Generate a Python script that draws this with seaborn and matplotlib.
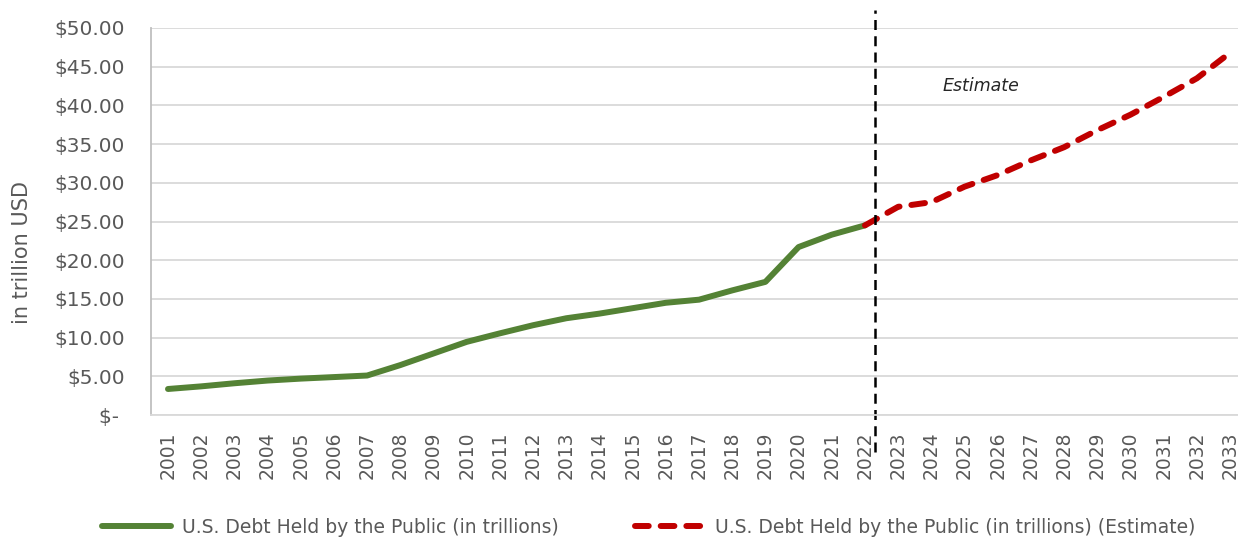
import numpy as np
import pandas as pd
import matplotlib
matplotlib.use('Agg')
import matplotlib.pyplot as plt
import seaborn as sns
from matplotlib.ticker import FuncFormatter

# values (trillions of USD)
years_actual = list(range(2001, 2023))
debt_actual = [3.36, 3.7, 4.1, 4.45, 4.7, 4.9, 5.1, 6.45, 7.95, 9.45, 10.55,
               11.6, 12.5, 13.1, 13.8, 14.5, 14.9, 16.1, 17.2, 21.7, 23.3, 24.5]
years_est = list(range(2022, 2034))
debt_est = [24.5, 26.9, 27.5, 29.5, 31.0, 32.9, 34.6, 36.8, 38.8, 41.1, 43.5, 46.8]
all_years = list(range(2001, 2034))

label_actual = 'U.S. Debt Held by the Public (in trillions)'
label_est = 'U.S. Debt Held by the Public (in trillions) (Estimate)'

df_actual = pd.DataFrame({'Year': years_actual, 'Debt': debt_actual})
df_est = pd.DataFrame({'Year': years_est, 'Debt': debt_est})

sns.set_style('white')
plt.rcParams['font.family'] = ['DejaVu Sans']

fig = plt.figure(figsize=(12.38, 5.39), dpi=100)
ax = fig.add_axes([151.4 / 1238, (539 - 415) / 539, 33 * 33.19 / 1238, 387 / 539])

sns.lineplot(data=df_actual, x='Year', y='Debt', ax=ax, color='#548235',
             linewidth=4.3, solid_capstyle='round', label=label_actual)
sns.lineplot(data=df_est, x='Year', y='Debt', ax=ax, color='#c00000',
             linewidth=4.3, linestyle=(0, (2.3, 2.0)), dash_capstyle='round',
             label=label_est)

# forecast divider
ax.axvline(2022.3, ymin=-0.096, ymax=1.047, color='black', lw=1.8,
           linestyle=(0, (4, 2.5)), clip_on=False)
ax.text(2025.5, 42.5, 'Estimate', style='italic', fontsize=12.5,
        ha='center', va='center', color='#262626')

ax.set_xlim(2000.5, 2033.5)
ax.set_ylim(0, 50)
ax.set_xticks(all_years)
ax.set_xticklabels([str(y) for y in all_years], rotation=90)
ax.set_yticks(np.arange(0, 55, 5))
ax.yaxis.set_major_formatter(FuncFormatter(lambda v, p: '$- ' if v == 0 else f'${v:.2f}'))

ax.grid(axis='y', color='#d9d9d9', lw=1.3)
ax.grid(axis='x', visible=False)
for s in ['top', 'right']:
    ax.spines[s].set_visible(False)
ax.spines['left'].set_color('#bfbfbf')
ax.spines['left'].set_linewidth(1.3)
ax.spines['bottom'].set_color('#d9d9d9')
ax.spines['bottom'].set_linewidth(1.3)

ax.tick_params(axis='y', length=0, pad=19, labelsize=14.5, labelcolor='#595959')
ax.tick_params(axis='x', length=0, pad=12, labelsize=13.5, labelcolor='#595959')

ax.set_xlabel('')
ax.set_ylabel('in trillion USD', fontsize=15, color='#595959')
ax.yaxis.set_label_coords(-0.109, 0.42)

handles, labels = ax.get_legend_handles_labels()
ax.get_legend().remove()
fig.legend(handles, labels, loc='center', bbox_to_anchor=(0.524, 0.022),
           ncol=2, frameon=False, fontsize=13.5, handlelength=3.7,
           handletextpad=0.55, columnspacing=4.1, labelcolor='#595959')

fig.savefig('out.png', dpi=100)
